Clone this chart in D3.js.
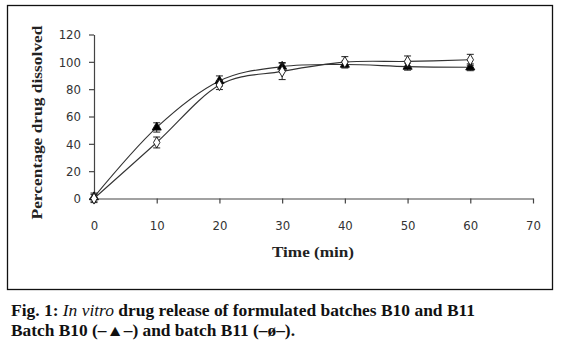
<!DOCTYPE html>
<html><head><meta charset="utf-8">
<script src="https://cdn.jsdelivr.net/npm/d3@7"></script>
<style>
html,body{margin:0;padding:0;background:#fff;}
svg{display:block;}
</style></head>
<body>
<svg id="c" width="564" height="344"></svg>
<script>
const times = [0, 10, 20, 30, 40, 50, 60];
const b10 = [1, 52, 86, 96.5, 98, 96.5, 96];
const b10Err = [3, 3.4, 3.7, 3, 2.5, 2.6, 2.5];
const b11 = [0, 41, 83, 93, 99.8, 100.3, 101.5];
const b11Err = [3, 4, 3.3, 6, 4, 4, 4];
const xTicks = [0, 10, 20, 30, 40, 50, 60, 70];
const yTicks = [0, 20, 40, 60, 80, 100, 120];
const yTitle = "Percentage drug dissolved";
const xTitle = "Time (min)";

const svg = d3.select("#c");
const x = d3.scaleLinear().domain([0, 70]).range([94, 533]);
const y = d3.scaleLinear().domain([0, 120]).range([198.5, 34.5]);

// frame
svg.append("rect").attr("x", 7.5).attr("y", 5.5).attr("width", 545).attr("height", 284)
  .attr("fill", "none").attr("stroke", "#111").attr("stroke-width", 1.3);

const tickFont = "'DejaVu Sans Condensed','Liberation Sans Narrow','Arial Narrow','DejaVu Sans',sans-serif";

// y axis
const ya = svg.append("g").attr("transform", `translate(${x(0)},0)`)
  .call(d3.axisLeft(y).tickValues(yTicks).tickSize(5).tickPadding(8).tickSizeOuter(0));
// x axis
const xa = svg.append("g").attr("transform", `translate(0,${y(0)})`)
  .call(d3.axisBottom(x).tickValues(xTicks).tickSize(5).tickPadding(17).tickSizeOuter(0));
[ya, xa].forEach(a => {
  a.select(".domain").attr("stroke", "#444").attr("stroke-width", 1.2);
  a.selectAll(".tick line").attr("stroke", "#444").attr("stroke-width", 1.2);
  a.selectAll("text").attr("font-family", tickFont).attr("font-size", 13).attr("fill", "#333");
});

// titles
svg.append("text").attr("transform", `translate(42,${(y(0)+y(120))/2 + 6}) rotate(-90)`)
  .attr("text-anchor", "middle").attr("font-family", "'Liberation Serif','Times New Roman',serif")
  .attr("font-weight", "bold").attr("font-size", 15).attr("fill", "#222")
  .attr("textLength", 194).attr("lengthAdjust", "spacingAndGlyphs").text(yTitle);
svg.append("text").attr("x", 313).attr("y", 257).attr("text-anchor", "middle")
  .attr("font-family", "'Liberation Serif','Times New Roman',serif")
  .attr("font-weight", "bold").attr("font-size", 15).attr("fill", "#222")
  .attr("textLength", 82).attr("lengthAdjust", "spacingAndGlyphs").text(xTitle);

// lines
const line = d3.line().x(d => x(d[0])).y(d => y(d[1])).curve(d3.curveCatmullRom.alpha(0));
const series = [
  {vals: b10, err: b10Err, sym: d3.symbolTriangle, fill: "#000"},
  {vals: b11, err: b11Err, sym: d3.symbolDiamond, fill: "#fff"}
];
series.forEach(s => {
  const pts = times.map((t, i) => [t, s.vals[i]]);
  svg.append("path").attr("d", line(pts)).attr("fill", "none")
    .attr("stroke", "#333").attr("stroke-width", 1.1);
});
series.forEach(s => {
  const g = svg.append("g");
  times.forEach((t, i) => {
    const cx = x(t), v = s.vals[i], e = s.err[i];
    g.append("line").attr("x1", cx).attr("x2", cx).attr("y1", y(v - e)).attr("y2", y(v + e))
      .attr("stroke", "#222").attr("stroke-width", 1);
    [v - e, v + e].forEach(ev => g.append("line").attr("x1", cx - 3.5).attr("x2", cx + 3.5)
      .attr("y1", y(ev)).attr("y2", y(ev)).attr("stroke", "#222").attr("stroke-width", 1));
  });
  g.selectAll("path.m").data(times).join("path").attr("class", "m")
    .attr("transform", (t, i) => `translate(${x(t)},${y(s.vals[i])})`)
    .attr("d", d3.symbol().type(s.sym).size(36))
    .attr("fill", s.fill).attr("stroke", "#111").attr("stroke-width", 0.9);
});

// caption
const capFont = "'Liberation Serif','Times New Roman',serif";
const c1 = svg.append("text").attr("x", 11).attr("y", 316)
  .attr("font-family", capFont).attr("font-weight", "bold").attr("font-size", 16).attr("fill", "#111")
  .attr("textLength", 464).attr("lengthAdjust", "spacingAndGlyphs");
c1.append("tspan").text("Fig. 1: ");
c1.append("tspan").attr("font-style", "italic").attr("font-weight", "normal").text("In vitro");
c1.append("tspan").text(" drug release of formulated batches B10 and B11");
svg.append("text").attr("x", 11).attr("y", 336)
  .attr("font-family", capFont).attr("font-weight", "bold").attr("font-size", 16).attr("fill", "#111")
  .attr("textLength", 284).attr("lengthAdjust", "spacingAndGlyphs")
  .text("Batch B10 (\u2013\u25B2\u2013) and batch B11 (\u2013\u00F8\u2013).");
</script>
</body></html>
